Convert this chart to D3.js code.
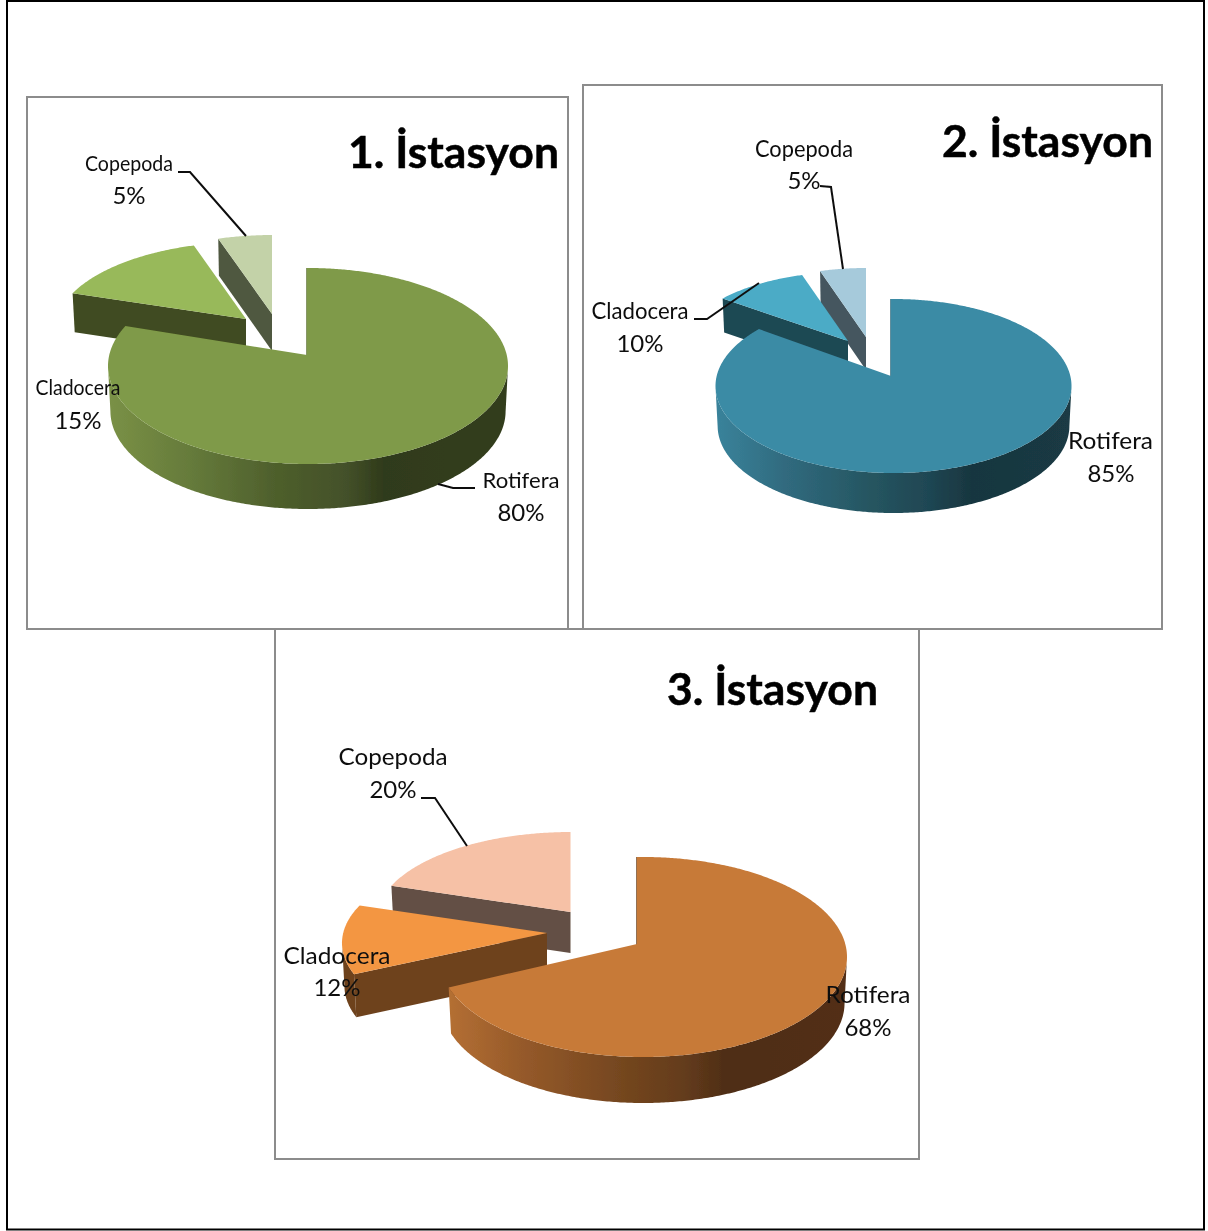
<!DOCTYPE html>
<html><head><meta charset="utf-8">
<script src="https://cdn.jsdelivr.net/npm/d3@7"></script>
<style>html,body{margin:0;padding:0;background:#fff}svg{display:block}text{font-family:Lato,"Open Sans",sans-serif;fill:#111}</style>
</head><body><div id="chart"></div>
<script>
const categories = ["Rotifera","Cladocera","Copepoda"];
const titles = ["1. İstasyon","2. İstasyon","3. İstasyon"];
const station1 = [80,15,5];
const station2 = [85,10,5];
const station3 = [68,12,20];

const W=1208,H=1231;
const svg=d3.select("#chart").append("svg").attr("width",W).attr("height",H);
const defs=svg.append("defs");
defs.append("filter").attr("id","soft").attr("x","-5%").attr("y","-5%").attr("width","110%").attr("height","110%")
  .append("feGaussianBlur").attr("stdDeviation",0.45);
svg.append("rect").attr("x",7).attr("y",1).attr("width",1197).attr("height",1228.5).attr("fill","none").attr("stroke","#000").attr("stroke-width",2);

const charts=[
 {values:station1,box:[27,97,568,629],title:[559,168],
  top:["#7f9a48","#98b95a","#c3d2a8"],face:["#5f7436","#404b20","#4f5840"],
  wall:[[0,"#7a9146"],[.22,"#64793a"],[.42,"#4e5f2c"],[.6,"#435029"],[.69,"#2f3a1a"],[1,"#333e1c"]],
  geo:[{a:[307,355],c:[308,366],r:[200,98],d:45},{a:[246,319],c:[247,330],r:[192,88],d:39},{a:[272,314],c:[273,322],r:[191,87],d:37}],
  fs:[21,24],
  widths:[77,85,88],
  labels:[[521,488,521,521],[78,395,78,429],[129,171,129,204]],
  leaders:[[[438,484],[453,488],[475,488]],[],[[178,172],[190,172],[246,236]]]},
 {values:station2,box:[583,85,1162,629],title:[1153,157],
  top:["#3b8ba5","#4babc6","#a6cadb"],face:["#2c6a7e","#1f4853","#44575f"],
  wall:[[0,"#3a839b"],[.2,"#306a7e"],[.45,"#25545f"],[.6,"#1f4653"],[.72,"#18363f"],[1,"#1a3a44"]],
  geo:[{a:[891,376],c:[893.5,386],r:[178,87],d:40},{a:[848,341],c:[848,350],r:[167,78],d:34},{a:[866,337],c:[866,345],r:[165,77],d:33}],
  fs:[23,24],
  widths:[85,97,98],
  labels:[[1110.5,449,1111,482],[640,319,640,352],[804,157,804,189]],
  leaders:[[],[[694,319],[707,319],[759,283]],[[820,186],[831,187],[843,269]]]},
 {values:station3,box:[275,629,919,1159],title:[878,705],
  top:["#c77a38","#f39643","#f6c1a6"],face:["#6e421e","#6e421e","#645044"],
  wall:[[0,"#b87234"],[.2,"#965a2a"],[.45,"#74461f"],[.6,"#643c1c"],[.7,"#4f2e16"],[1,"#522f16"]],
  geo:[{a:[637,944],c:[643,957],r:[204,100],d:46},{a:[547,933],c:[545,943],r:[203,92],d:43},{a:[570.5,912],c:[571,920],r:[195,88],d:41}],
  fs:[24,24],
  widths:[85,107,109],
  labels:[[868,1003,868,1036],[337,964,337,996],[393,765,393,798]],
  leaders:[[],[],[[421,798],[435,798],[467,846]]]}
];

const pie=d3.pie().sort(null).startAngle(0).endAngle(2*Math.PI);
const line=d3.line();
const pct=v=>d3.format("d")(v)+"%";
const inset=0.988;

function rimPoint(g,th){
  const ux=(g.a[0]-g.c[0])/g.r[0],uy=(g.a[1]-g.c[1])/g.r[1];
  const vx=Math.sin(th),vy=-Math.cos(th);
  const b=ux*vx+uy*vy,t=-b+Math.sqrt(b*b-(ux*ux+uy*uy)+1);
  return [g.c[0]+(ux+t*vx)*g.r[0],g.c[1]+(uy+t*vy)*g.r[1]];
}
function rimArc(g,a0,a1){
  const n=Math.max(2,Math.ceil((a1-a0)/0.01));
  return d3.range(n+1).map(i=>rimPoint(g,a0+(a1-a0)*i/n));
}
const down=(g,p)=>[g.c[0]+(p[0]-g.c[0])*inset,p[1]+g.d];

charts.forEach((ch,ci)=>{
  const b=ch.box;
  const P=svg.append("g");
  P.append("rect").attr("x",b[0]).attr("y",b[1]).attr("width",b[2]-b[0]).attr("height",b[3]-b[1])
   .attr("fill","#fff").attr("stroke","#8c8c8c").attr("stroke-width",2);
  const G=P.append("g").attr("filter","url(#soft)");
  const gm=ch.geo[0];
  const gid="wall"+ci;
  const lg=defs.append("linearGradient").attr("id",gid).attr("gradientUnits","userSpaceOnUse")
    .attr("x1",gm.c[0]-gm.r[0]).attr("x2",gm.c[0]+gm.r[0]).attr("y1",0).attr("y2",0);
  ch.wall.forEach(s=>lg.append("stop").attr("offset",s[0]).attr("stop-color",s[1]));

  const arcs=pie(ch.values);
  arcs.slice().reverse().forEach(arc=>{
    const i=arc.index,g=ch.geo[i];
    const rim=rimArc(g,arc.startAngle,arc.endAngle);
    const wallTop=rim.filter(p=>p[1]>=g.c[1]);
    if(wallTop.length>1){
      G.append("path").attr("d",line(wallTop.concat(wallTop.slice().reverse().map(p=>down(g,p))))+"Z")
       .attr("fill",i===0?`url(#${gid})`:ch.face[i]).attr("stroke","none");
    }
    const radial=(ang)=>{
      const p=rimPoint(g,ang);
      return line([p,g.a,down(g,g.a),down(g,p)])+"Z";
    };
    if(Math.sin(arc.startAngle)<=0){
      G.append("path").attr("d",radial(arc.startAngle)).attr("fill",ch.face[i])
       .attr("stroke",ch.face[i]).attr("stroke-width",arc.startAngle===0?1.5:0);
    }
    if(Math.sin(arc.endAngle)>0.01){
      G.append("path").attr("d",radial(arc.endAngle)).attr("fill",ch.face[i]);
    }
    G.append("path").attr("d",line([g.a].concat(rim))+"Z").attr("fill",ch.top[i]);
  });

  ch.leaders.forEach(l=>{ if(l.length) G.append("path").attr("d",line(l)).attr("fill","none").attr("stroke","#111").attr("stroke-width",2); });
  categories.forEach((c,i)=>{
    const l=ch.labels[i];
    G.append("text").attr("x",l[0]).attr("y",l[1]).attr("text-anchor","middle").attr("font-size",ch.fs[0])
     .attr("textLength",ch.widths[i]).attr("lengthAdjust","spacingAndGlyphs").text(c);
    G.append("text").attr("x",l[2]).attr("y",l[3]).attr("text-anchor","middle").attr("font-size",ch.fs[1]).text(pct(ch.values[i]));
  });
  G.append("text").attr("x",ch.title[0]).attr("y",ch.title[1]).attr("text-anchor","end")
   .attr("font-size",44.5).attr("font-weight",700).style("fill","#000").style("stroke","#000").style("stroke-width",0.5).text(titles[ci]);
});
</script></body></html>
